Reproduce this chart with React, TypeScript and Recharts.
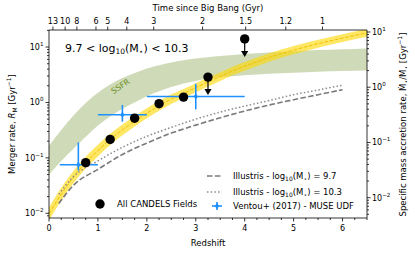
import React from 'react';
import { ComposedChart, Area, Line, Scatter, XAxis, YAxis, ErrorBar } from 'recharts';

// ---- band grid (redshift) ----
const zGrid = [0, 0.25, 0.5, 0.75, 1, 1.25, 1.5, 1.75, 2, 2.25, 2.5, 2.75, 3, 3.25, 3.5, 3.75, 4, 4.5, 5, 5.5, 6, 6.5];
// yellow merger-rate fit band
const fitMid = [0.0098, 0.022, 0.045, 0.082, 0.135, 0.215, 0.32, 0.46, 0.64, 0.87, 1.15, 1.45, 1.85, 2.35, 2.95, 3.7, 4.5, 6.5, 8.8, 11.5, 14.5, 18];
const fitLow = [0.0074, 0.017, 0.035, 0.064, 0.106, 0.17, 0.255, 0.37, 0.52, 0.71, 0.94, 1.2, 1.53, 1.95, 2.45, 3.1, 3.75, 5.45, 7.4, 9.7, 12.3, 15.3];
const fitHigh = [0.0128, 0.029, 0.058, 0.105, 0.172, 0.272, 0.4, 0.57, 0.79, 1.06, 1.4, 1.75, 2.23, 2.82, 3.52, 4.4, 5.35, 7.7, 10.4, 13.6, 17.1, 21.2];
// green SSFR band
const ssfrLow = [0.05, 0.088, 0.146, 0.24, 0.385, 0.56, 0.77, 1.0, 1.3, 1.6, 1.9, 2.2, 2.45, 2.7, 2.85, 2.98, 3.1, 3.28, 3.45, 3.58, 3.7, 3.78];
const ssfrHigh = [0.166, 0.32, 0.58, 0.98, 1.5, 2.1, 2.75, 3.4, 4.1, 4.7, 5.25, 5.75, 6.2, 6.55, 6.9, 7.2, 7.5, 8.0, 8.4, 8.8, 9.1, 9.4];

// ---- Illustris curves ----
const illustrisZ = [0.2, 0.5, 1, 1.5, 2, 2.5, 3, 3.5, 4, 4.5, 5, 5.5, 6];
const illustris97 = [0.015, 0.032, 0.062, 0.115, 0.185, 0.28, 0.39, 0.53, 0.7, 0.9, 1.12, 1.38, 1.7];
const illustris103 = [0.022, 0.046, 0.088, 0.155, 0.245, 0.355, 0.5, 0.67, 0.86, 1.08, 1.38, 1.68, 2.05];

// ---- CANDELS points ----
const candelsZ = [0.75, 1.25, 1.75, 2.25, 2.75, 3.25, 4.0];
const candelsRate = [0.082, 0.215, 0.52, 0.95, 1.25, 2.87, 14];
const candelsUpper = [false, false, false, false, false, true, true];

// ---- Ventou+ 2017 ----
const ventouZ = [0.6, 1.5, 3.0];
const ventouZLow = [0.22, 1.0, 2.0];
const ventouZHigh = [1.0, 2.0, 4.0];
const ventouRate = [0.075, 0.6, 1.28];
const ventouRateLow = [0.059, 0.45, 0.75];
const ventouRateHigh = [0.19, 0.9, 2.17];

// ---- ticks ----
const redshiftMajor = [0, 1, 2, 3, 4, 5, 6];
const redshiftTicks = [0, 0.25, 0.5, 0.75, 1, 1.25, 1.5, 1.75, 2, 2.25, 2.5, 2.75, 3, 3.25, 3.5, 3.75, 4, 4.25, 4.5, 4.75, 5, 5.25, 5.5, 5.75, 6, 6.25, 6.5];
const ageTickZ = [0.08, 0.33, 0.57, 0.96, 1.2, 1.59, 2.14, 3.14, 4.02, 4.84, 5.59];
const ageLabels = ['13', '10', '8', '6', '5', '4', '3', '2', '1.5', '1.2', '1'];
const decades = [0.001, 0.01, 0.1, 1, 10];
const minorMult = [1, 2, 3, 4, 5, 6, 7, 8, 9];
const leftDomain = [0.00822, 20.3];
const rightDomain = [0.00429, 10.87];

const logTicks = (dom: number[]) => {
  const out: number[] = [];
  decades.forEach((d) => minorMult.forEach((m) => {
    const v = +(d * m).toPrecision(3);
    if (v >= dom[0] && v <= dom[1]) out.push(v);
  }));
  return out;
};

const chartData = zGrid.map((z, i) => ({
  z,
  fit: [fitLow[i], fitHigh[i]],
  fitMid: fitMid[i],
  ssfr: [ssfrLow[i], ssfrHigh[i]],
}));
const ill97Data = illustrisZ.map((z, i) => ({ z, v: illustris97[i] }));
const ill103Data = illustrisZ.map((z, i) => ({ z, v: illustris103[i] }));
const candelsData = candelsZ.map((z, i) => ({ z, rate: candelsRate[i], upper: candelsUpper[i] }));
const ventouData = ventouZ.map((z, i) => ({
  z,
  rate: ventouRate[i],
  zErr: [z - ventouZLow[i], ventouZHigh[i] - z],
  rErr: [ventouRate[i] - ventouRateLow[i], ventouRateHigh[i] - ventouRate[i]],
}));

const FONT = 'DejaVu Sans, sans-serif';
const BLUE = '#1E90FF';
const TICK_FS = 8;

const isDecade = (v: number) => Math.abs(Math.log10(v) - Math.round(Math.log10(v))) < 1e-6;
const expStr = (v: number) => {
  const e = Math.round(Math.log10(v));
  return e < 0 ? '\u2212' + -e : String(e);
};

const LeftTick = (props: any) => {
  const { x, y, payload } = props;
  const v = payload.value;
  const major = isDecade(v);
  return (
    <g>
      <line x1={x} x2={x - (major ? 3.5 : 2)} y1={y} y2={y} stroke="#000" strokeWidth={0.8} />
      {major && (
        <text x={x - 5.5} y={y + 3} textAnchor="end" fontSize={TICK_FS} fontFamily={FONT} fill="#000">
          10<tspan dy={-4} fontSize={5.6}>{expStr(v)}</tspan>
        </text>
      )}
    </g>
  );
};

const RightTick = (props: any) => {
  const { x, y, payload } = props;
  const v = payload.value;
  const major = isDecade(v);
  return (
    <g>
      <line x1={x} x2={x + (major ? 3.5 : 2)} y1={y} y2={y} stroke="#000" strokeWidth={0.8} />
      {major && (
        <text x={x + 5} y={y + 3} textAnchor="start" fontSize={TICK_FS} fontFamily={FONT} fill="#000">
          10<tspan dy={-4} fontSize={5.6}>{expStr(v)}</tspan>
        </text>
      )}
    </g>
  );
};

const BottomTick = (props: any) => {
  const { x, y, payload } = props;
  const v = payload.value;
  const major = redshiftMajor.includes(v);
  return (
    <g>
      <line x1={x} x2={x} y1={y} y2={y + (major ? 3.5 : 2)} stroke="#000" strokeWidth={0.8} />
      {major && (
        <text x={x} y={y + 13} textAnchor="middle" fontSize={TICK_FS} fontFamily={FONT} fill="#000">
          {v}
        </text>
      )}
    </g>
  );
};

const TopTick = (props: any) => {
  const { x, y, payload } = props;
  const idx = ageTickZ.indexOf(payload.value);
  return (
    <g>
      <line x1={x} x2={x} y1={y} y2={y - 3.5} stroke="#000" strokeWidth={0.8} />
      <text x={x} y={y - 6.5} textAnchor="middle" fontSize={TICK_FS} fontFamily={FONT} fill="#000">
        {idx >= 0 ? ageLabels[idx] : ''}
      </text>
    </g>
  );
};

const CandelsShape = (props: any) => {
  const { cx, cy, payload } = props;
  if (cx == null || cy == null) return <g />;
  return (
    <g>
      {payload.upper && (
        <g>
          <line x1={cx} x2={cx} y1={cy} y2={cy + 13} stroke="#000" strokeWidth={1.2} />
          <polygon points={`${cx - 3.6},${cy + 12} ${cx + 3.6},${cy + 12} ${cx},${cy + 18}`} fill="#000" />
        </g>
      )}
      <circle cx={cx} cy={cy} r={4.7} fill="#000" />
    </g>
  );
};

const VentouShape = (props: any) => {
  const { cx, cy } = props;
  if (cx == null || cy == null) return <g />;
  return <polygon points={`${cx},${cy - 3} ${cx + 2.2},${cy} ${cx},${cy + 3} ${cx - 2.2},${cy}`} fill={BLUE} />;
};

const Sub = ({ children, size = 6 }: any) => (
  <tspan dy={2} fontSize={size}>{children}</tspan>
);

export default function App() {
  return (
    <div style={{ position: 'absolute', left: 0, top: 0, width: 415, height: 254, background: '#fff' }}>
      <ComposedChart
        width={415}
        height={254}
        data={chartData}
        margin={{ top: 10, right: 8, bottom: 10, left: 8 }}
      >
        <XAxis
          xAxisId="bottom"
          dataKey="z"
          type="number"
          domain={[0, 6.5]}
          allowDataOverflow
          ticks={redshiftTicks}
          interval={0}
          height={26}
          tickSize={0}
          tickMargin={0}
          tick={<BottomTick />}
          axisLine={{ stroke: '#000', strokeWidth: 0.8 }}
        />
        <XAxis
          xAxisId="top"
          orientation="top"
          dataKey="z"
          type="number"
          domain={[0, 6.5]}
          allowDataOverflow
          ticks={ageTickZ}
          interval={0}
          height={20}
          tickSize={0}
          tickMargin={0}
          tick={<TopTick />}
          axisLine={{ stroke: '#000', strokeWidth: 0.8 }}
        />
        <YAxis
          yAxisId="left"
          scale="log"
          type="number"
          domain={leftDomain}
          allowDataOverflow
          ticks={logTicks(leftDomain)}
          interval={0}
          width={41}
          tickSize={0}
          tickMargin={0}
          tick={<LeftTick />}
          axisLine={{ stroke: '#000', strokeWidth: 0.8 }}
        />
        <YAxis
          yAxisId="right"
          orientation="right"
          scale="log"
          type="number"
          domain={rightDomain}
          allowDataOverflow
          ticks={logTicks(rightDomain)}
          interval={0}
          width={40}
          tickSize={0}
          tickMargin={0}
          tick={<RightTick />}
          axisLine={{ stroke: '#000', strokeWidth: 0.8 }}
        />
        <Area
          xAxisId="bottom"
          yAxisId="left"
          dataKey="ssfr"
          type="monotone"
          fill="#6b8e23"
          fillOpacity={0.32}
          stroke="none"
          isAnimationActive={false}
          dot={false}
          activeDot={false}
        />
        <Area
          xAxisId="bottom"
          yAxisId="left"
          dataKey="fit"
          type="monotone"
          fill="#FFD700"
          fillOpacity={0.6}
          stroke="none"
          isAnimationActive={false}
          dot={false}
          activeDot={false}
        />
        <Line
          xAxisId="bottom"
          yAxisId="left"
          dataKey="fitMid"
          type="monotone"
          stroke="#F2C100"
          strokeWidth={1}
          strokeDasharray="3.7 1.6"
          dot={false}
          activeDot={false}
          isAnimationActive={false}
        />
        <Line
          xAxisId="bottom"
          yAxisId="left"
          data={ill97Data}
          dataKey="v"
          type="monotone"
          stroke="#7a7a7a"
          strokeWidth={1.6}
          strokeDasharray="5.5 2.4"
          dot={false}
          activeDot={false}
          isAnimationActive={false}
        />
        <Line
          xAxisId="bottom"
          yAxisId="left"
          data={ill103Data}
          dataKey="v"
          type="monotone"
          stroke="#8c8c8c"
          strokeWidth={1.5}
          strokeDasharray="1.5 2.2"
          dot={false}
          activeDot={false}
          isAnimationActive={false}
        />
        <Scatter
          xAxisId="bottom"
          yAxisId="left"
          data={ventouData}
          dataKey="rate"
          shape={<VentouShape />}
          isAnimationActive={false}
        >
          <ErrorBar dataKey="zErr" direction="x" stroke={BLUE} strokeWidth={1.6} width={0} />
          <ErrorBar dataKey="rErr" direction="y" stroke={BLUE} strokeWidth={1.6} width={0} />
        </Scatter>
        <Scatter
          xAxisId="bottom"
          yAxisId="left"
          data={candelsData}
          dataKey="rate"
          shape={<CandelsShape />}
          isAnimationActive={false}
        />
      </ComposedChart>

      <svg
        width={415}
        height={254}
        style={{ position: 'absolute', left: 0, top: 0, pointerEvents: 'none' }}
        fontFamily={FONT}
      >
        {/* axis labels */}
        <text x={208} y={11} textAnchor="middle" fontSize={8.5} fill="#000">Time since Big Bang (Gyr)</text>
        <text x={208} y={246} textAnchor="middle" fontSize={8.5} fill="#000">Redshift</text>
        <text transform="translate(14.5,124) rotate(-90)" textAnchor="middle" fontSize={8.5} fill="#000">
          Merger rate, <tspan fontStyle="italic">R</tspan><tspan dy={2} fontSize={6}>M</tspan>
          <tspan dy={-2}> [Gyr</tspan><tspan dy={-3.5} fontSize={6}>{'\u22121'}</tspan><tspan dy={3.5}>]</tspan>
        </text>
        <text transform="translate(405.5,124.5) rotate(-90)" textAnchor="middle" fontSize={8.5} fill="#000">
          Specific mass accretion rate, {'\u1E40'}<tspan dy={2} fontSize={6}>{'\u22C6'}</tspan>
          <tspan dy={-2}>/M</tspan><tspan dy={2} fontSize={6}>{'\u22C6'}</tspan>
          <tspan dy={-2}> [Gyr</tspan><tspan dy={-3.5} fontSize={6}>{'\u22121'}</tspan><tspan dy={3.5}>]</tspan>
        </text>

        {/* annotation */}
        <text x={65} y={51.5} fontSize={11} fill="#000">
          9.7 &lt; log<tspan dy={2.5} fontSize={7.5}>10</tspan><tspan dy={-2.5}>(M</tspan>
          <tspan dy={2.5} fontSize={7.5}>{'\u22C6'}</tspan><tspan dy={-2.5}>) &lt; 10.3</tspan>
        </text>
        <text transform="translate(122,88.5) rotate(-34)" textAnchor="middle" fontSize={8} fill="#6b8e23">SSFR</text>

        {/* legend right */}
        <line x1={207} x2={222} y1={176} y2={176} stroke="#7a7a7a" strokeWidth={1.6} strokeDasharray="5.5 2.4" />
        <text x={233} y={179} fontSize={8.5} fill="#000">
          Illustris - log<Sub>10</Sub><tspan dy={-2}>(M</tspan><Sub>{'\u22C6'}</Sub><tspan dy={-2}>) = 9.7</tspan>
        </text>
        <line x1={207} x2={222} y1={192} y2={192} stroke="#8c8c8c" strokeWidth={1.5} strokeDasharray="1.5 2.2" />
        <text x={233} y={195} fontSize={8.5} fill="#000">
          Illustris - log<Sub>10</Sub><tspan dy={-2}>(M</tspan><Sub>{'\u22C6'}</Sub><tspan dy={-2}>) = 10.3</tspan>
        </text>
        <line x1={212} x2={222} y1={206} y2={206} stroke={BLUE} strokeWidth={1.6} />
        <line x1={217} x2={217} y1={202} y2={210} stroke={BLUE} strokeWidth={1.6} />
        <polygon points="217,203 219.2,206 217,209 214.8,206" fill={BLUE} />
        <text x={233} y={209} fontSize={8.5} fill="#000">Ventou+ (2017) - MUSE UDF</text>

        {/* legend left */}
        <circle cx={100} cy={204} r={4.7} fill="#000" />
        <text x={117} y={207} fontSize={8.5} fill="#000">All CANDELS Fields</text>
      </svg>
    </div>
  );
}
